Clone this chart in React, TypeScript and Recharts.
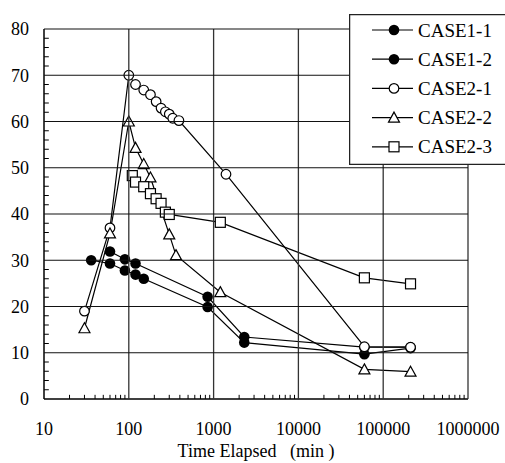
import { Line, LineChart, ReferenceArea, ReferenceLine, XAxis, YAxis } from "recharts";

// elapsed time (min) and value
const case11Time = [36, 60, 90, 120, 150, 850, 2300, 60000, 210000];
const case11Value = [30.0, 29.3, 27.8, 26.9, 26.0, 19.9, 12.2, 9.7, 11.0];

const case12Time = [60, 90, 120, 850, 2300, 60000, 210000];
const case12Value = [31.9, 30.2, 29.3, 22.1, 13.4, 11.2, 11.2];

const case21Time = [30, 60, 100, 120, 150, 180, 210, 240, 270, 300, 330, 390, 1400, 60000, 210000];
const case21Value = [19.0, 37.0, 70.0, 68.0, 66.8, 65.8, 64.3, 62.9, 62.1, 61.6, 60.7, 60.2, 48.6, 11.3, 11.2];

const case22Time = [30, 60, 100, 120, 150, 180, 300, 360, 1200, 60000, 210000];
const case22Value = [15.3, 35.8, 60.0, 54.3, 50.8, 47.9, 35.6, 31.1, 23.1, 6.4, 5.9];

const case23Time = [110, 120, 150, 180, 210, 240, 270, 300, 1200, 60000, 210000];
const case23Value = [48.3, 46.9, 45.9, 44.4, 43.3, 42.3, 40.4, 39.9, 38.2, 26.2, 24.9];

const xTicks = [10, 100, 1000, 10000, 100000, 1000000];
const yTicks = [0, 10, 20, 30, 40, 50, 60, 70, 80];
const xMinorTicks = [
  20, 30, 40, 50, 60, 70, 80, 90,
  200, 300, 400, 500, 600, 700, 800, 900,
  2000, 3000, 4000, 5000, 6000, 7000, 8000, 9000,
  20000, 30000, 40000, 50000, 60000, 70000, 80000, 90000,
  200000, 300000, 400000, 500000, 600000, 700000, 800000, 900000,
];
const yMinorTicks = [2, 4, 6, 8, 12, 14, 16, 18, 22, 24, 26, 28, 32, 34, 36, 38, 42, 44, 46, 48, 52, 54, 56, 58, 62, 64, 66, 68, 72, 74, 76, 78];

const seriesNames = ["CASE1-1", "CASE1-2", "CASE2-1", "CASE2-2", "CASE2-3"];
const seriesShapes = ["filled", "filled", "circle", "triangle", "square"];

const toPoints = (xs: number[], ys: number[]) => xs.map((x, i) => ({ x, y: ys[i] }));

const INK = "#000";
// minor tick length, in data units (~4 px up, ~5 px right)
const X_TICK_LEN = 0.9;
const Y_TICK_END = 11.4;

function Marker(props: any) {
  const { shape, cx, cy } = props;
  if (cx == null || cy == null) return null;
  if (shape === "filled") return <circle cx={cx} cy={cy} r={5.3} fill={INK} />;
  if (shape === "circle")
    return <circle cx={cx} cy={cy} r={4.8} fill="#fff" stroke={INK} strokeWidth={1.2} />;
  if (shape === "triangle")
    return (
      <polygon
        points={`${cx},${cy - 5.5} ${cx + 5.5},${cy + 4.5} ${cx - 5.5},${cy + 4.5}`}
        fill="#fff"
        stroke={INK}
        strokeWidth={1.2}
      />
    );
  return <rect x={cx - 5} y={cy - 5} width={10} height={10} fill="#fff" stroke={INK} strokeWidth={1.2} />;
}

function LegendBox() {
  return (
    <div style={{ position: "absolute", left: 349, top: 14, width: 156, height: 151 }}>
      <svg width={156} height={151} style={{ display: "block" }}>
        <rect x={0} y={0} width={156} height={151} fill="#fff" />
        <polyline points="160,0.6 0.6,0.6 0.6,150.4 160,150.4" fill="none" stroke="#222" strokeWidth={1.3} />
        {seriesNames.map((name, i) => {
          const cy = 16 + i * 29.2;
          return (
            <g key={name}>
              <line x1={23} x2={64} y1={cy} y2={cy} stroke={INK} strokeWidth={1.2} />
              <Marker shape={seriesShapes[i]} cx={45} cy={cy} />
              <text x={69} y={cy + 6.5} fontSize={19} fill={INK}>
                {name}
              </text>
            </g>
          );
        })}
      </svg>
    </div>
  );
}

export default function App() {
  const lines = [
    toPoints(case11Time, case11Value),
    toPoints(case12Time, case12Value),
    toPoints(case21Time, case21Value),
    toPoints(case22Time, case22Value),
    toPoints(case23Time, case23Value),
  ];

  return (
    <div style={{ position: "absolute", left: 0, top: 0 }}>
      <LineChart width={505} height={463} margin={{ top: 29, right: 37, bottom: 0, left: 0 }}>
        <ReferenceArea x1={10} x2={1000000} y1={0} y2={80} fill="#fff" fillOpacity={1} stroke="none" />
        <XAxis
          dataKey="x"
          type="number"
          scale="log"
          domain={[10, 1000000]}
          ticks={xTicks}
          height={64}
          tickSize={0}
          tickMargin={23}
          axisLine={{ stroke: INK, strokeWidth: 1.5 }}
          tick={{ fill: INK, fontSize: 18 }}
          label={{ value: "Time Elapsed\u00a0\u00a0\u00a0(min\u00a0)", position: "insideBottom", offset: 6, fill: INK, fontSize: 18 }}
        />
        <YAxis
          type="number"
          domain={[0, 80]}
          ticks={yTicks}
          width={44}
          tickSize={0}
          tickMargin={15}
          axisLine={{ stroke: INK, strokeWidth: 1.5 }}
          tick={{ fill: INK, fontSize: 18 }}
        />
        {lines.map((data, i) => (
          <Line
            key={seriesNames[i]}
            data={data}
            dataKey="y"
            name={seriesNames[i]}
            type="linear"
            stroke={INK}
            strokeWidth={1.2}
            dot={<Marker shape={seriesShapes[i]} />}
            isAnimationActive={false}
          />
        ))}
        {xTicks.slice(1).map((t) => (
          <ReferenceLine key={`gx${t}`} x={t} stroke="#333" strokeWidth={1.3} isFront zIndex={1000} />
        ))}
        {yTicks.slice(1).map((t) => (
          <ReferenceLine key={`gy${t}`} y={t} stroke="#111" strokeWidth={1.1} isFront zIndex={1000} />
        ))}
        {xMinorTicks.map((t) => (
          <ReferenceLine
            key={`mx${t}`}
            segment={[{ x: t, y: 0 }, { x: t, y: X_TICK_LEN }]}
            stroke={INK}
            strokeWidth={1}
            isFront
            zIndex={1000}
          />
        ))}
        {yMinorTicks.map((t) => (
          <ReferenceLine
            key={`my${t}`}
            segment={[{ x: 10, y: t }, { x: Y_TICK_END, y: t }]}
            stroke={INK}
            strokeWidth={1}
            isFront
            zIndex={1000}
          />
        ))}
      </LineChart>
      <LegendBox />
    </div>
  );
}
